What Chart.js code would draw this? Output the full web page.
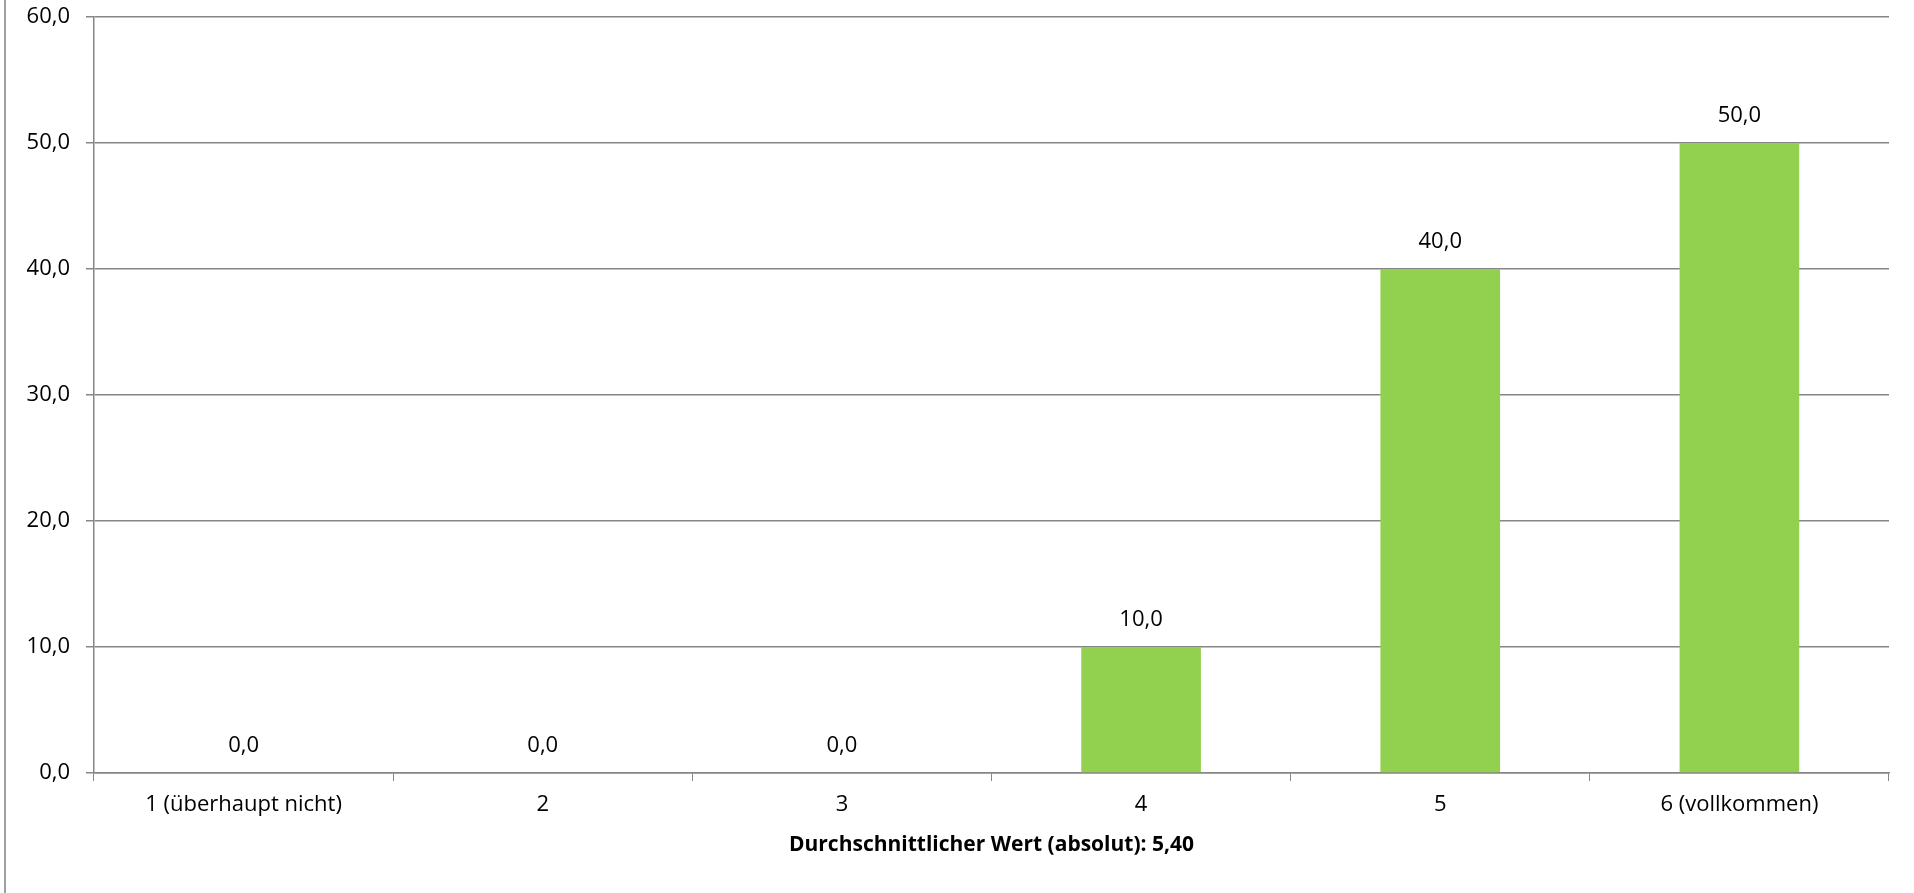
<!DOCTYPE html>
<html>
<head>
<meta charset="utf-8">
<script src="https://cdn.jsdelivr.net/npm/chart.js@4/dist/chart.umd.min.js"></script>
<style>
  html, body { margin: 0; padding: 0; background: #fff; }
  #wrap { width: 1914px; height: 893px; }
</style>
</head>
<body>
<div id="wrap"><canvas id="chart" width="1914" height="893"></canvas></div>
<script>
const categories = ['1 (überhaupt nicht)', '2', '3', '4', '5', '6 (vollkommen)'];
const percentValues = [0, 0, 0, 10, 40, 50];
const yTicks = [0, 10, 20, 30, 40, 50, 60];
const axisTitle = 'Durchschnittlicher Wert (absolut): 5,40';

const gridGrey = '#868686';
const fontFamily = '"Open Sans", "Noto Sans", sans-serif';
const fmt = v => v.toFixed(1).replace('.', ',');

// value labels above every bar (zero bars too)
const barLabels = {
  id: 'barLabels',
  afterDatasetsDraw(chart) {
    const ctx = chart.ctx;
    const meta = chart.getDatasetMeta(0);
    ctx.save();
    ctx.font = '22px ' + fontFamily;
    ctx.fillStyle = '#000';
    ctx.textAlign = 'center';
    ctx.textBaseline = 'middle';
    meta.data.forEach((bar, i) => {
      ctx.fillText(fmt(percentValues[i]), bar.x, bar.y - 27);
    });
    ctx.restore();
  }
};

// thin frame line on the left edge of the picture
const leftFrame = {
  id: 'leftFrame',
  beforeDraw(chart) {
    const ctx = chart.ctx;
    ctx.save();
    ctx.strokeStyle = '#a0a0a0';
    ctx.lineWidth = 2;
    ctx.beginPath();
    ctx.moveTo(5, 0);
    ctx.lineTo(5, chart.height);
    ctx.stroke();
    ctx.restore();
  }
};

new Chart(document.getElementById('chart'), {
  type: 'bar',
  data: {
    labels: categories,
    datasets: [{
      data: percentValues,
      backgroundColor: '#92D050',
      borderWidth: 0,
      categoryPercentage: 1,
      barPercentage: 0.4
    }]
  },
  options: {
    responsive: false,
    animation: false,
    layout: { padding: { left: 0, right: 25, top: 17, bottom: 35 } },
    plugins: {
      legend: { display: false },
      tooltip: { enabled: false }
    },
    scales: {
      x: {
        grid: { drawOnChartArea: false, drawTicks: true, tickLength: 8, color: gridGrey },
        border: { color: gridGrey, width: 1.5 },
        ticks: { color: '#000', font: { family: fontFamily, size: 22 }, padding: 11, maxRotation: 0 },
        title: {
          display: true,
          text: axisTitle,
          color: '#000',
          font: { family: fontFamily, size: 21, weight: 'bold' },
          padding: 0
        },
        afterFit(scale) {
          scale.height = 85;
          scale.paddingLeft = 0;
          scale.paddingRight = 0;
        }
      },
      y: {
        min: 0,
        max: 60,
        afterBuildTicks(scale) { scale.ticks = yTicks.map(v => ({ value: v })); },
        grid: { color: gridGrey, lineWidth: 1.5, tickLength: 8 },
        border: { color: gridGrey, width: 1.5 },
        ticks: {
          color: '#000',
          font: { family: fontFamily, size: 22 },
          padding: 16,
          callback: v => fmt(v)
        },
        afterFit(scale) {
          scale.width = 94;
          scale.paddingTop = 0;
          scale.paddingBottom = 0;
        }
      }
    }
  },
  plugins: [barLabels, leftFrame]
});
</script>
</body>
</html>
